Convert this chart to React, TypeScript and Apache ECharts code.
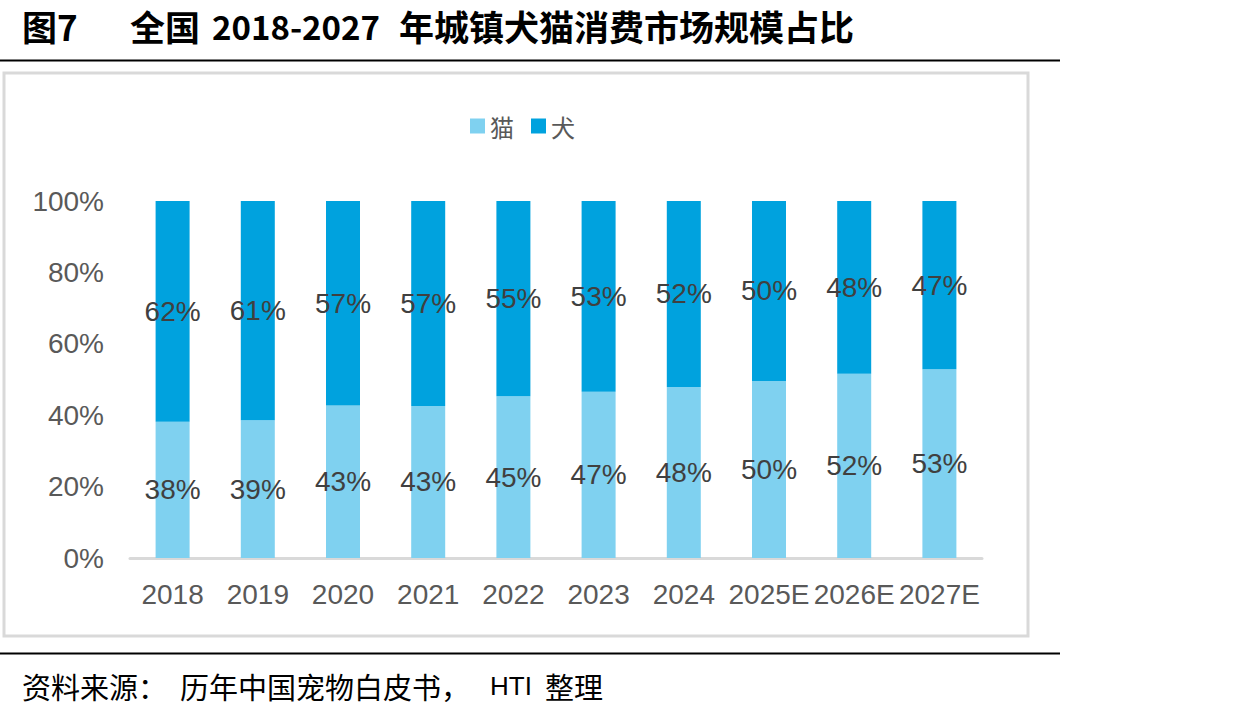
import React, { useEffect, useRef } from "react";
import * as echarts from "echarts";

const years = ["2018", "2019", "2020", "2021", "2022", "2023", "2024", "2025E", "2026E", "2027E"];
const catShare = [38.2, 38.6, 42.7, 42.6, 45.3, 46.6, 47.9, 49.6, 51.6, 52.9];
const dogShare = [61.8, 61.4, 57.3, 57.4, 54.7, 53.4, 52.1, 50.4, 48.4, 47.1];
const yTicks = [0, 20, 40, 60, 80, 100];

const titleFont = "bold 35px 'Noto Sans CJK SC', sans-serif";
const titleDigitFont = "bold 33px 'Noto Sans CJK SC', sans-serif";
const sourceFont = "29px 'Noto Sans CJK SC', sans-serif";
const latin = "Liberation Sans, Arial, sans-serif";

export default function App() {
  const ref = useRef<HTMLDivElement>(null);
  useEffect(() => {
    if (!ref.current) return;
    const chart = echarts.init(ref.current, null, { renderer: "svg" });
    const labelStyle = {
      show: true,
      position: "inside",
      color: "#404040",
      fontSize: 28,
      fontFamily: latin,
      formatter: (p: any) => Math.round(p.value) + "%",
    };
    const t = (text: string, left: number, top: number, font: string) => ({
      type: "text",
      left,
      top,
      style: { text, font, fill: "#000000" },
    });
    chart.setOption({
      animation: false,
      backgroundColor: "#ffffff",
      graphic: [
        t("图7", 22, 8, titleFont),
        t("全国", 130, 8, titleFont),
        t("2018-2027", 212, 9, titleDigitFont),
        t("年城镇犬猫消费市场规模占比", 399, 8, titleFont),
        {
          type: "line",
          shape: { x1: 0, y1: 60.5, x2: 1060, y2: 60.5 },
          style: { stroke: "#000000", lineWidth: 2 },
        },
        {
          type: "rect",
          shape: { x: 4, y: 73, width: 1024, height: 563 },
          style: { fill: "none", stroke: "#d9d9d9", lineWidth: 3 },
        },
        {
          type: "line",
          shape: { x1: 0, y1: 653.5, x2: 1060, y2: 653.5 },
          style: { stroke: "#000000", lineWidth: 2 },
        },
        t("资料来源：", 22, 671, sourceFont),
        t("历年中国宠物白皮书，", 180, 671, sourceFont),
        t("HTI", 490, 673, "26px " + latin),
        t("整理", 545, 671, sourceFont),
      ],
      legend: {
        data: ["猫", "犬"],
        left: 465,
        top: 109,
        itemWidth: 15,
        itemHeight: 15,
        itemGap: 17,
        icon: "rect",
        textStyle: {
          color: "#595959",
          fontSize: 24,
          fontFamily: "'Noto Sans CJK SC', sans-serif",
        },
      },
      grid: { left: 130, right: 252, top: 201, bottom: 157 },
      xAxis: {
        type: "category",
        data: years,
        axisLine: { lineStyle: { color: "#d9d9d9", width: 3 } },
        axisTick: { show: false },
        axisLabel: {
          color: "#595959",
          fontSize: 28,
          margin: 22,
          interval: 0,
          fontFamily: latin,
        },
      },
      yAxis: {
        type: "value",
        min: 0,
        max: 100,
        interval: 20,
        splitLine: { show: false },
        axisLine: { show: false },
        axisTick: { show: false },
        axisLabel: {
          color: "#595959",
          fontSize: 28,
          margin: 26,
          fontFamily: latin,
          formatter: (v: number) => (yTicks.includes(v) ? v + "%" : ""),
        },
      },
      series: [
        {
          name: "猫",
          type: "bar",
          stack: "share",
          barWidth: 34,
          data: catShare,
          itemStyle: { color: "#7fd1f0" },
          label: labelStyle,
        },
        {
          name: "犬",
          type: "bar",
          stack: "share",
          barWidth: 34,
          data: dogShare,
          itemStyle: { color: "#00a2de" },
          label: labelStyle,
        },
      ],
    });
    return () => chart.dispose();
  }, []);
  return (
    <div
      ref={ref}
      style={{ position: "fixed", left: 0, top: 0, width: 1234, height: 715 }}
    />
  );
}
